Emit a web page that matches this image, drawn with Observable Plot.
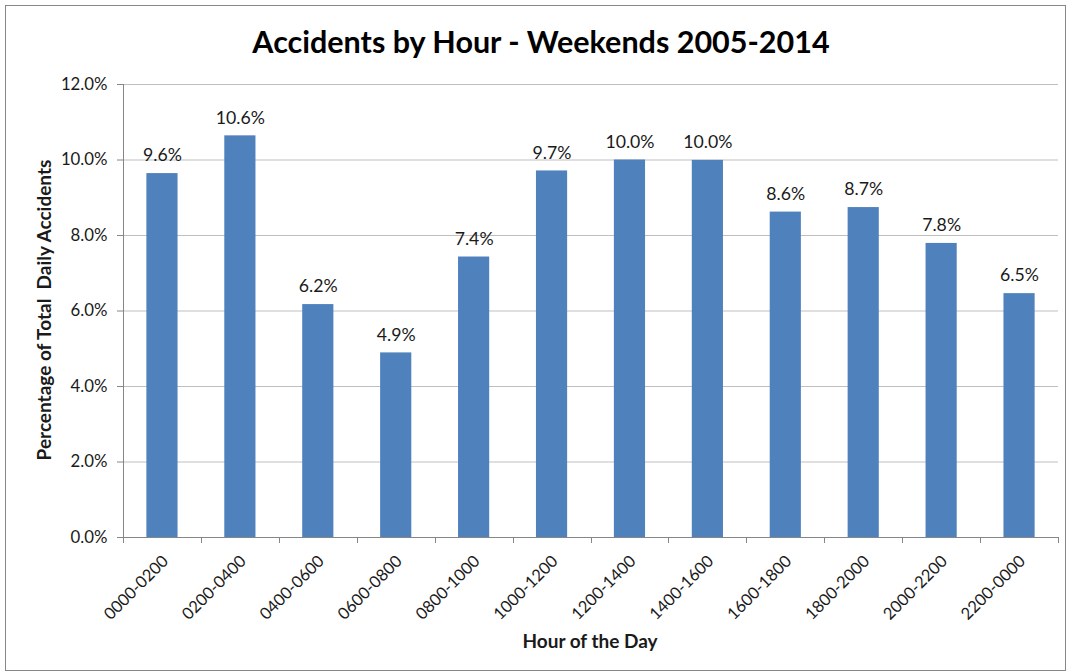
<!DOCTYPE html>
<html><head><meta charset="utf-8">
<script src="https://cdn.jsdelivr.net/npm/d3@7"></script>
<script src="https://cdn.jsdelivr.net/npm/@observablehq/plot@0.6"></script>
<style>
body{margin:0;background:#fff;font-family:Lato,"Open Sans",sans-serif;color:#1a1a1a}
#frame{position:absolute;left:5px;top:5px;width:1061px;height:666px;border:1.5px solid #878787;box-sizing:border-box}
#title{position:absolute;left:5px;top:22px;width:1072px;text-align:center;font-weight:bold;font-size:30.5px;line-height:38px;color:#000}
#chart{position:absolute;left:0;top:70px}
#xt{position:absolute;left:440px;top:629px;width:300px;text-align:center;font-weight:bold;font-size:19px;line-height:24px}
#yt{position:absolute;left:44px;top:310px;width:400px;margin-left:-200px;margin-top:-12px;text-align:center;font-weight:bold;font-size:19px;line-height:24px;transform:rotate(-90deg)}
</style></head>
<body>
<div id="frame"></div>
<div id="title">Accidents by Hour - Weekends 2005-2014</div>
<div id="chart"></div>
<div id="xt">Hour of the Day</div>
<div id="yt">Percentage of Total&nbsp; Daily Accidents</div>
<script>
const categories = ["0000-0200","0200-0400","0400-0600","0600-0800","0800-1000","1000-1200","1200-1400","1400-1600","1600-1800","1800-2000","2000-2200","2200-0000"];
const values = [9.64,10.64,6.17,4.89,7.43,9.71,10.0,9.99,8.62,8.74,7.79,6.46];
const yTicks = [0,2,4,6,8,10,12];

const data = categories.map((c,i)=>({hour:c, pct:values[i]/100}));
const fmt = d3.format(".1%");

const axisLines = (index, scales, vals, dim) => {
  const {marginLeft:l, marginRight:r, marginTop:t, marginBottom:b, width:w, height:h} = dim;
  const x0 = l, x1 = w - r, y0 = h - b;
  const n = categories.length, step = (x1 - x0) / n;
  const g = d3.create("svg:g").attr("stroke","#868686").attr("stroke-width",1).attr("fill","none");
  g.append("line").attr("x1",x0+0.5).attr("x2",x0+0.5).attr("y1",t).attr("y2",y0);
  g.append("line").attr("x1",x0-6).attr("x2",x1).attr("y1",y0+0.5).attr("y2",y0+0.5);
  for (let i=0;i<=n;i++){
    const x = Math.round(x0+i*step)+0.5;
    g.append("line").attr("x1",x).attr("x2",x).attr("y1",y0).attr("y2",y0+6);
  }
  return g.node();
};

const chart = Plot.plot({
  width:1068, height:602, marginTop:14, marginBottom:135, marginLeft:123, marginRight:10,
  style:{fontFamily:'Lato,"Open Sans",sans-serif', fontSize:"16px", color:"#1a1a1a", background:"transparent", overflow:"visible"},
  x:{domain:categories, paddingInner:0.6, paddingOuter:0.3, round:false, label:null},
  y:{domain:[0,0.12], label:null},
  marks:[
    Plot.gridY(yTicks.map(v=>v/100), {stroke:"#bfbfbf", strokeOpacity:1}),
    Plot.barY(data,{x:"hour", y:"pct", fill:"#4F81BD"}),
    axisLines,
    Plot.axisY(yTicks.map(v=>v/100), {tickFormat:d3.format(".1%"), tickSize:6, tickPadding:10, stroke:"#868686", fill:"#1a1a1a", fontSize:16.8, label:null}),
    Plot.axisX({tickRotate:-45, tickSize:0, tickPadding:21, dx:3, fill:"#1a1a1a", fontSize:16.5, label:null}),
    Plot.text(data,{x:"hour", y:"pct", text:d=>fmt(d.pct), dy:-18, fontSize:17.7, fill:"#1a1a1a"})
  ]
});
document.getElementById("chart").appendChild(chart);
</script>
</body></html>
